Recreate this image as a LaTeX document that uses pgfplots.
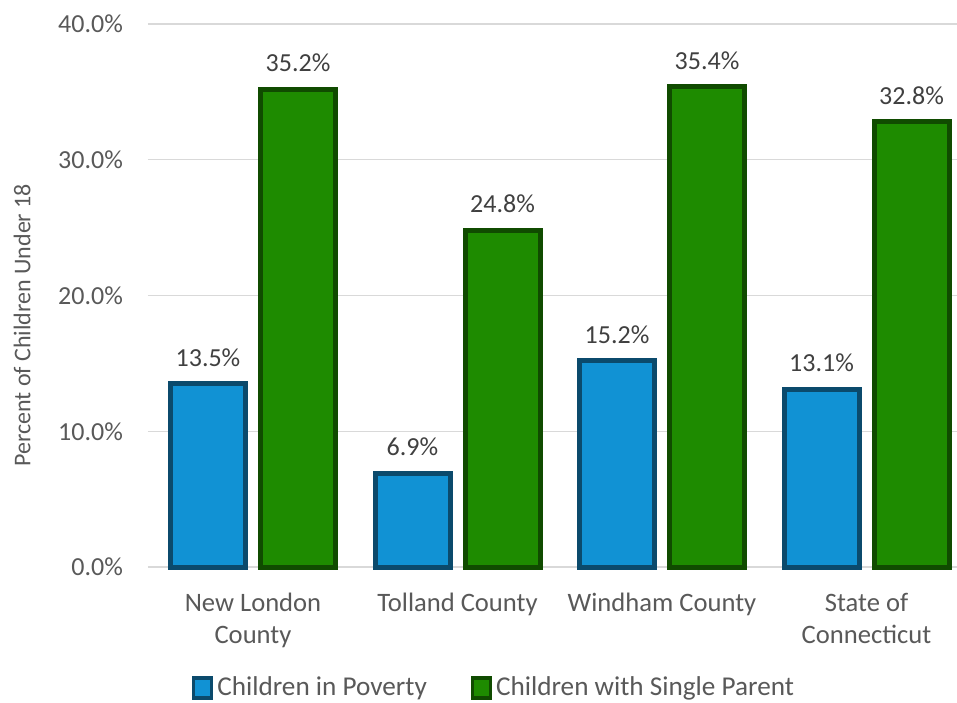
\documentclass[border=0pt]{standalone}
\usepackage{pgfplots}
\pgfplotsset{compat=1.18}
\usepackage{fontspec}
\setmainfont{Carlito}
\definecolor{txt}{HTML}{595959}
\definecolor{lbl}{HTML}{404040}
\definecolor{gridc}{HTML}{D9D9D9}
\definecolor{bluefill}{HTML}{1192D4}
\definecolor{blueedge}{HTML}{0B4A6C}
\definecolor{greenfill}{HTML}{1E8B00}
\definecolor{greenedge}{HTML}{104B00}
\begin{document}
\begin{tikzpicture}
\useasboundingbox (0,0) rectangle (478.5pt,351pt);
\begin{axis}[
  at={(74pt,67.5pt)}, anchor=south west,
  scale only axis, width=404.5pt, height=271.5pt,
  ybar, bar width=37.5pt,
  xmin=-0.5134, xmax=3.4425, ymin=0, ymax=40,
  xtick={0,1,2,3},
  xticklabels={{New London\\County},{Tolland County},{Windham County},{State of\\Connecticut}},
  xticklabel style={align=center, font=\fontsize{13.3pt}{16pt}\selectfont, text=txt, yshift=-9.5pt},
  ytick={0,10,20,30,40},
  yticklabels={0.0\%,10.0\%,20.0\%,30.0\%,40.0\%},
  yticklabel style={font=\fontsize{13pt}{15pt}\selectfont, text=txt, xshift=-9pt},
  major tick length=0pt,
  axis line style={draw=none},
  xmajorgrids=false, ymajorgrids=true, grid style={draw=gridc, line width=0.6pt},
  every axis y label/.style={at={(axis description cs:-0.1557,0.445)}, rotate=90, anchor=center, font=\fontsize{12pt}{14pt}\selectfont, text=txt},
  ylabel={Percent of Children Under 18},
  nodes near coords={\pgfmathprintnumber[fixed,fixed zerofill,precision=1,assume math mode=true]{\pgfplotspointmeta}\%},
  nodes near coords style={font=\fontsize{13pt}{15pt}\selectfont, text=lbl, yshift=4pt},
  legend style={at={(0.429,-0.2228)}, anchor=center, draw=none, legend columns=-1,
    font=\fontsize{13.6pt}{15pt}\selectfont, text=txt, inner sep=0pt,
    /tikz/every even column/.append style={column sep=20pt}},
  legend image code/.code={\draw[#1, line width=1.6pt] (0pt,-5pt) rectangle (9pt,5pt);},
  clip=false,
]
\addplot[fill=bluefill, draw=blueedge, line width=2.5pt, bar shift=-22.5pt] coordinates {(0,13.5) (1,6.9) (2,15.2) (3,13.1)};
\addplot[fill=greenfill, draw=greenedge, line width=2.5pt, bar shift=22.5pt] coordinates {(0,35.2) (1,24.8) (2,35.4) (3,32.8)};
\legend{Children in Poverty, Children with Single Parent}
\end{axis}
\end{tikzpicture}
\end{document}
